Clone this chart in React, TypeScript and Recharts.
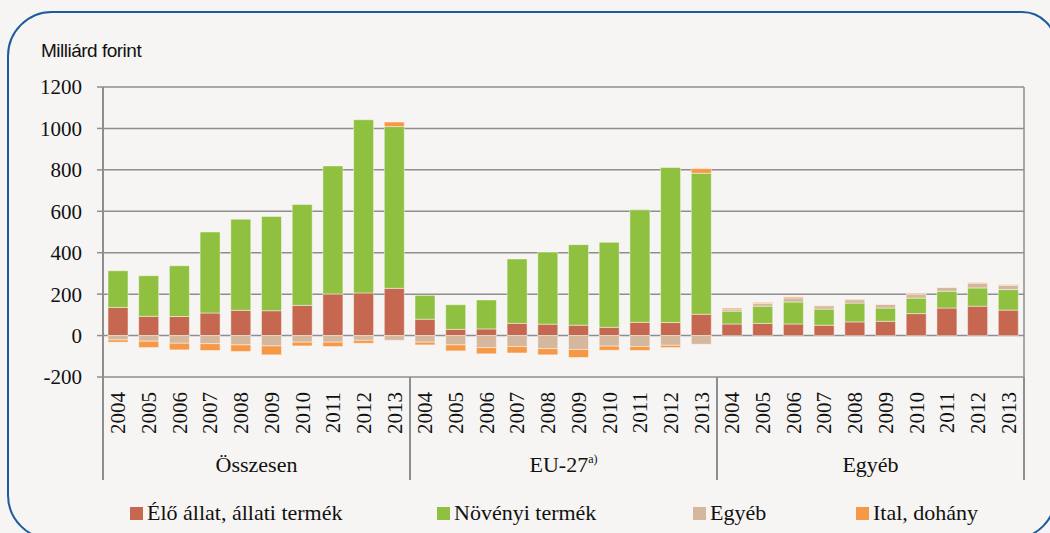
import React from "react";
import { Bar, BarChart, CartesianGrid, XAxis, YAxis } from "recharts";

const years = ["2004", "2005", "2006", "2007", "2008", "2009", "2010", "2011", "2012", "2013"];
const groups = ["Összesen", "EU-27", "Egyéb"];
const yTicks = [-200, 0, 200, 400, 600, 800, 1000, 1200];

// Összesen | EU-27 | Egyéb, évente
const eloAllat = [
	136, 93, 92, 109, 122, 120, 146, 201, 206, 228,
	79, 30, 32, 59, 55, 50, 40, 64, 63, 103,
	56, 59, 56, 50, 66, 69, 106, 133, 142, 123,
];
const novenyi = [
	177, 196, 245, 391, 440, 455, 487, 618, 836, 781,
	115, 119, 140, 311, 348, 389, 410, 543, 748, 681,
	62, 83, 106, 78, 91, 64, 75, 81, 88, 99,
];
const egyeb = [
	-21, -27, -37, -39, -45, -50, -32, -32, -23, -23,
	-32, -45, -58, -53, -63, -67, -51, -53, -47, -42,
	10, 13, 20, 16, 16, 17, 17, 18, 23, 21,
];
const ital = [
	-11, -31, -32, -33, -32, -43, -18, -21, -14, 22,
	-13, -29, -30, -31, -30, -39, -20, -19, -11, 22,
	5, 5, 5, 2, 3, 2, 5, 2, 3, 3,
];

const series = [
	{ key: "elo", name: "Élő állat, állati termék", color: "#c6684f", left: 130 },
	{ key: "noveny", name: "Növényi termék", color: "#8fc03f", left: 437 },
	{ key: "egyeb", name: "Egyéb", color: "#d5b79d", left: 693 },
	{ key: "ital", name: "Ital, dohány", color: "#f79847", left: 856 },
];

const data = eloAllat.map((v, i) => ({
	id: String(i),
	year: years[i % 10],
	group: groups[Math.floor(i / 10)],
	elo: v,
	noveny: novenyi[i],
	egyeb: egyeb[i],
	ital: ital[i],
}));

const serif = "'Liberation Serif', 'DejaVu Serif', serif";
const gridColor = "#8e8e8e";

function YearTick(props: any) {
	const { x, y, payload } = props;
	const row = data[Number(payload.value)];
	return (
		<text
			transform={`translate(${x},${y}) rotate(-90)`}
			textAnchor="end"
			dominantBaseline="central"
			fontFamily={serif}
			fontSize={21}
			fill="#111"
		>
			{row ? row.year : ""}
		</text>
	);
}

function GroupTick(props: any) {
	const { x, y, payload, index } = props;
	const half = payload.offset ?? 153.5;
	const isEu = payload.value === "EU-27";
	return (
		<g>
			<line x1={x - half} x2={x - half} y1={y - 60} y2={y + 43} stroke={gridColor} strokeWidth={2} />
			{index === 2 && (
				<line x1={x + half} x2={x + half} y1={y - 60} y2={y + 43} stroke={gridColor} strokeWidth={2} />
			)}
			<text x={x} y={y + 35} textAnchor="middle" fontFamily={serif} fontSize={22} fill="#111">
				{payload.value}
				{isEu && (
					<tspan fontSize={12} dy={-9}>
						a)
					</tspan>
				)}
			</text>
		</g>
	);
}

export default function App() {
	return (
		<div
			style={{
				position: "fixed",
				left: 0,
				top: 0,
				width: 1050,
				height: 533,
				overflow: "hidden",
				background: "#f6f5f3",
			}}
		>
			<div
				style={{
					position: "absolute",
					left: 7,
					top: 11,
					width: 1046,
					height: 525,
					border: "2px solid #1c5b9e",
					borderRadius: "45px 35px 45px 45px",
				}}
			/>
			<div
				style={{
					position: "absolute",
					left: 41,
					top: 41,
					fontFamily: "'Liberation Sans', Arial, sans-serif",
					fontSize: 19,
					lineHeight: "19px",
					letterSpacing: -0.5,
					color: "#111",
				}}
			>
				Milliárd forint
			</div>
			<div style={{ position: "absolute", left: 0, top: 0 }}>
				<BarChart
					width={1050}
					height={533}
					data={data}
					stackOffset="sign"
					margin={{ top: 87, right: 26, left: 8, bottom: 51 }}
				>
					<CartesianGrid
						stroke={gridColor}
						strokeWidth={1.5}
						verticalCoordinatesGenerator={({ offset }: any) => [offset.left, offset.left + offset.width]}
					/>
					<XAxis
						dataKey="id"
						height={60}
						axisLine={false}
						tickLine={false}
						tickSize={0}
						tickMargin={15}
						interval={0}
						tick={<YearTick />}
					/>
					<XAxis
						xAxisId="grp"
						dataKey="group"
						allowDuplicatedCategory={false}
						height={45}
						axisLine={false}
						tickLine={false}
						tickSize={0}
						tickMargin={0}
						interval={0}
						tick={<GroupTick />}
					/>
					<YAxis
						width={95}
						domain={[-200, 1200]}
						ticks={yTicks}
						interval={0}
						tickSize={6}
						tickMargin={15}
						axisLine={{ stroke: gridColor, strokeWidth: 2 }}
						tickLine={{ stroke: gridColor, strokeWidth: 1.5 }}
						tick={{ fontFamily: serif, fontSize: 21, fill: "#111" }}
					/>
					{series.map((s) => (
						<Bar
							key={s.key}
							dataKey={s.key}
							name={s.name}
							stackId="a"
							fill={s.color}
							stroke="rgba(255,255,255,0.45)"
							strokeWidth={1}
							barSize={20}
							isAnimationActive={false}
						/>
					))}
				</BarChart>
			</div>
			{series.map((s) => (
				<div
					key={s.key}
					style={{
						position: "absolute",
						left: s.left,
						top: 502,
						display: "flex",
						alignItems: "center",
						fontFamily: serif,
						fontSize: 22,
						lineHeight: "22px",
						color: "#111",
						whiteSpace: "nowrap",
					}}
				>
					<span style={{ width: 13, height: 13, background: s.color, marginRight: 4, marginTop: 1 }} />
					{s.name}
				</div>
			))}
		</div>
	);
}
